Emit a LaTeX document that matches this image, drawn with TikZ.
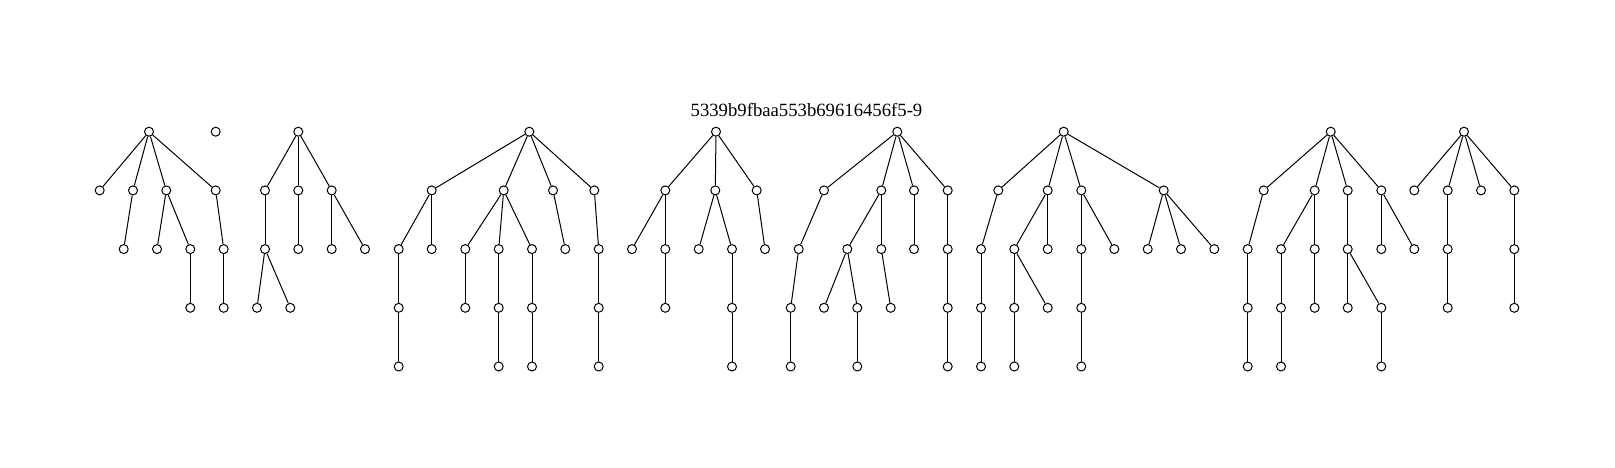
\documentclass[tikz,border=0pt]{standalone}
\usepackage{fontspec}
\setmainfont{Liberation Serif}

\begin{document}
\begin{tikzpicture}[x=1pt,y=-1pt,
    vertex/.style={circle,draw,fill=white,inner sep=0pt,minimum size=9pt,line width=1pt},
    edge/.style={line width=1pt}]
    % Parameters -- one unit is one pixel of the picture
    \pgfmathsetmacro{\levelzero}{131.7}
    \pgfmathsetmacro{\levelgap}{58.7}
    \useasboundingbox (0,0) rectangle (1615,468);

    \node (title) at (806.5,110) {\fontsize{18.7}{21}\selectfont 5339b9fbaa553b69616456f5-9};

    % Tree a and the lone vertex
    \node[vertex] (s0) at (215.7,\levelzero) {};
    \foreach \name/\xpos/\lvl in {a0/149/0, a1/99.7/1, a2/133/1, a3/166.3/1, a4/215.7/1,
            a5/123.7/2, a6/157/2, a7/190.3/2, a8/223.7/2, a9/190.3/3, a10/223.7/3}
        \node[vertex] (\name) at (\xpos,{\levelzero+\lvl*\levelgap}) {};
    \foreach \from/\to in {a0/a1, a0/a2, a0/a3, a0/a4, a2/a5, a3/a6, a3/a7, a4/a8, a7/a9, a8/a10}
        \draw[edge] (\from) -- (\to);

    % Tree b
    \foreach \name/\xpos/\lvl in {b0/298.3/0, b1/265/1, b2/298.3/1, b3/331.7/1,
            b4/265/2, b5/298.3/2, b6/331.7/2, b7/365/2, b8/257/3, b9/290.3/3}
        \node[vertex] (\name) at (\xpos,{\levelzero+\lvl*\levelgap}) {};
    \foreach \from/\to in {b0/b1, b0/b2, b0/b3, b1/b4, b2/b5, b3/b6, b3/b7, b4/b8, b4/b9}
        \draw[edge] (\from) -- (\to);

    % Tree c
    \foreach \name/\xpos/\lvl in {c0/529.3/0, c1/431.7/1, c2/503.7/1, c3/553/1, c4/594.3/1,
            c5/398.7/2, c6/431.7/2, c7/465.3/2, c8/498.7/2, c9/532/2, c10/565.3/2, c11/598.7/2,
            c12/398.7/3, c13/465.3/3, c14/498.7/3, c15/532/3, c16/598.7/3,
            c17/398.7/4, c18/498.7/4, c19/532/4, c20/598.7/4}
        \node[vertex] (\name) at (\xpos,{\levelzero+\lvl*\levelgap}) {};
    \foreach \from/\to in {c0/c1, c0/c2, c0/c3, c0/c4, c1/c5, c1/c6, c2/c7, c2/c8, c2/c9, c3/c10, c4/c11,
            c5/c12, c7/c13, c8/c14, c9/c15, c11/c16, c12/c17, c14/c18, c15/c19, c16/c20}
        \draw[edge] (\from) -- (\to);

    % Tree d
    \foreach \name/\xpos/\lvl in {d0/716/0, d1/665.3/1, d2/715.3/1, d3/756.7/1,
            d4/632/2, d5/665.3/2, d6/698.7/2, d7/732/2, d8/765/2,
            d9/665.3/3, d10/732/3, d11/732/4}
        \node[vertex] (\name) at (\xpos,{\levelzero+\lvl*\levelgap}) {};
    \foreach \from/\to in {d0/d1, d0/d2, d0/d3, d1/d4, d1/d5, d2/d6, d2/d7, d3/d8, d5/d9, d7/d10, d10/d11}
        \draw[edge] (\from) -- (\to);

    % Tree e
    \foreach \name/\xpos/\lvl in {e0/897.3/0, e1/824/1, e2/881.3/1, e3/914/1, e4/947.7/1,
            e5/798.7/2, e6/847.3/2, e7/881.3/2, e8/914/2, e9/947.7/2,
            e10/790.7/3, e11/824/3, e12/857.3/3, e13/890.7/3, e14/947.7/3,
            e15/790.7/4, e16/857.3/4, e17/947.7/4}
        \node[vertex] (\name) at (\xpos,{\levelzero+\lvl*\levelgap}) {};
    \foreach \from/\to in {e0/e1, e0/e2, e0/e3, e0/e4, e1/e5, e2/e6, e2/e7, e3/e8, e4/e9,
            e5/e10, e6/e11, e6/e12, e7/e13, e9/e14, e10/e15, e12/e16, e14/e17}
        \draw[edge] (\from) -- (\to);

    % Tree f
    \foreach \name/\xpos/\lvl in {f0/1063.7/0, f1/998.3/1, f2/1047.7/1, f3/1081.3/1, f4/1163.7/1,
            f5/981/2, f6/1014.3/2, f7/1047.7/2, f8/1081.3/2, f9/1114.3/2, f10/1147.7/2, f11/1181/2, f12/1214.3/2,
            f13/981/3, f14/1014.3/3, f15/1047.7/3, f16/1081.3/3,
            f17/981/4, f18/1014.3/4, f19/1081.3/4}
        \node[vertex] (\name) at (\xpos,{\levelzero+\lvl*\levelgap}) {};
    \foreach \from/\to in {f0/f1, f0/f2, f0/f3, f0/f4, f1/f5, f2/f6, f2/f7, f3/f8, f3/f9, f4/f10, f4/f11, f4/f12,
            f5/f13, f6/f14, f6/f15, f8/f16, f13/f17, f14/f18, f16/f19}
        \draw[edge] (\from) -- (\to);

    % Tree g
    \foreach \name/\xpos/\lvl in {g0/1330.7/0, g1/1263.7/1, g2/1314.7/1, g3/1347.7/1, g4/1381.3/1,
            g5/1247.7/2, g6/1281/2, g7/1314.7/2, g8/1347.7/2, g9/1381.3/2, g10/1414.3/2,
            g11/1247.7/3, g12/1281/3, g13/1314.7/3, g14/1347.7/3, g15/1381.3/3,
            g16/1247.7/4, g17/1281/4, g18/1381.3/4}
        \node[vertex] (\name) at (\xpos,{\levelzero+\lvl*\levelgap}) {};
    \foreach \from/\to in {g0/g1, g0/g2, g0/g3, g0/g4, g1/g5, g2/g6, g2/g7, g3/g8, g4/g9, g4/g10,
            g5/g11, g6/g12, g7/g13, g8/g14, g8/g15, g11/g16, g12/g17, g15/g18}
        \draw[edge] (\from) -- (\to);

    % Tree h
    \foreach \name/\xpos/\lvl in {h0/1464/0, h1/1414.3/1, h2/1447.7/1, h3/1481/1, h4/1514.3/1,
            h5/1447.7/2, h6/1514.3/2, h7/1447.7/3, h8/1514.3/3}
        \node[vertex] (\name) at (\xpos,{\levelzero+\lvl*\levelgap}) {};
    \foreach \from/\to in {h0/h1, h0/h2, h0/h3, h0/h4, h2/h5, h4/h6, h5/h7, h6/h8}
        \draw[edge] (\from) -- (\to);
\end{tikzpicture}
\end{document}
